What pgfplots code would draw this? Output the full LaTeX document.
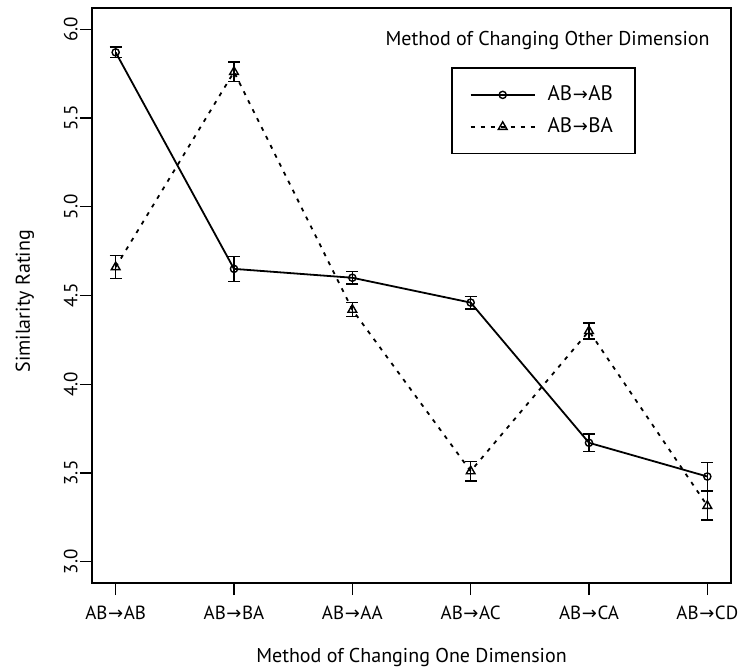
\documentclass[border=0pt]{standalone}
\usepackage{pgfplots}
\pgfplotsset{compat=1.18}
\usepackage{pgfplotstable}
\usepackage{fontspec}
\setmainfont{PT Sans}
\newfontfamily\arrowfont{DejaVu Sans}
\newcommand{\ar}{\kern0.3pt{\arrowfont\fontsize{9}{10}\selectfont →}\kern0.3pt}

% same order of the other dimension (AB->AB)
\pgfplotstableread{
x y err
0 5.870 0.030
1 4.650 0.070
2 4.600 0.035
3 4.460 0.035
4 3.670 0.050
5 3.480 0.080
}\sameorder

% swapped order of the other dimension (AB->BA)
\pgfplotstableread{
x y err
0 4.660 0.065
1 5.760 0.055
2 4.420 0.040
3 3.510 0.055
4 4.300 0.045
5 3.315 0.080
}\swapped

\begin{document}
\begin{tikzpicture}
\begin{axis}[
  scale only axis,
  width=319.5pt, height=287.5pt,
  xmin=-0.2, xmax=5.2,
  ymin=2.88, ymax=6.12,
  xtick={0,1,2,3,4,5},
  xticklabels={AB\ar AB, AB\ar BA, AB\ar AA, AB\ar AC, AB\ar CA, AB\ar CD},
  ytick={3,3.5,4,4.5,5,5.5,6},
  yticklabel style={/pgf/number format/fixed, /pgf/number format/fixed zerofill, /pgf/number format/precision=1},
  /pgf/number format/assume math mode=true,
  xtick pos=bottom, ytick pos=left,
  tick align=outside,
  major tick length=6pt,
  tick style={black, line width=0.7pt},
  axis line style={line width=0.9pt},
  tick label style={font=\fontsize{9.5}{11}\selectfont},
  xticklabel shift=5.5pt,
  yticklabel shift=1pt,
  xticklabel style={inner sep=0pt, anchor=north},
  yticklabel style={inner sep=0pt, rotate=90, anchor=south},
  xlabel={Method of Changing One Dimension},
  ylabel={Similarity Rating},
  label style={font=\fontsize{10}{12}\selectfont},
  xlabel style={at={(axis description cs:0.5,-0.1295)}, anchor=center},
  ylabel style={at={(axis description cs:-0.105,0.49)}, anchor=center},
  legend style={
    at={(rel axis cs:0.562,0.897)}, anchor=north west,
    draw=black, line width=0.7pt,
    font=\fontsize{10.5}{12}\selectfont,
    inner xsep=9pt, inner ysep=7pt,
    row sep=3pt,
    /tikz/every odd column/.append style={column sep=4pt},
  },
  legend cell align=left,
  legend image code/.code={
    \draw[mark repeat=2, mark phase=2, #1] plot coordinates {(0pt,0pt) (16pt,0pt) (32pt,0pt)};
  },
]
\addplot[black, line width=0.9pt, mark=o, mark size=1.8pt,
  mark options={solid, fill=white, line width=0.7pt},
  error bars/.cd, y dir=both, y explicit,
  error bar style={solid, line width=0.7pt},
  error mark options={rotate=90, black, line width=0.7pt, mark size=3pt},
] table[x=x, y=y, y error=err] {\sameorder};
\addplot[black, line width=0.9pt, dash pattern=on 2pt off 3pt,
  mark=triangle, mark size=2.5pt,
  mark options={solid, fill=white, line width=0.7pt},
  error bars/.cd, y dir=both, y explicit,
  error bar style={solid, line width=0.7pt},
  error mark options={rotate=90, black, line width=0.7pt, mark size=3pt},
] table[x=x, y=y, y error=err] {\swapped};
\legend{AB\ar AB, AB\ar BA}
\node[font=\fontsize{10}{12}\selectfont] at (rel axis cs:0.713,0.944) {Method of Changing Other Dimension};
\end{axis}
\pgfresetboundingbox
\path ([shift={(-46pt,-43.5pt)}]current axis.south west) rectangle ([shift={(8.5pt,4pt)}]current axis.north east);
\end{tikzpicture}
\end{document}
